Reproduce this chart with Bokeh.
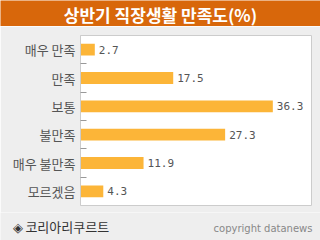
from bokeh.plotting import figure
from bokeh.models import Range1d, FixedTicker, LinearAxis, ColumnDataSource, Label
from bokeh.layouts import column
from bokeh.core.properties import value
from bokeh.embed import file_html
from bokeh.resources import INLINE

title_text = "상반기 직장생활 만족도(%)"
categories = ["매우 만족", "만족", "보통", "불만족", "매우 불만족", "모르겠음"]
values = [2.7, 17.5, 36.3, 27.3, 11.9, 4.3]
source_text = "◈ 코리아리쿠르트"
copyright_text = "copyright datanews"

KFONT = "Noto Sans CJK KR"
BG = "#EEEEEE"
W = 320
LEFT, RIGHT = 80, 9


def strip(height, fill):
    # full-width frame; data units equal page pixels
    f = figure(width=W, height=height, x_range=Range1d(0, W), y_range=Range1d(0, height),
               toolbar_location=None, output_backend="svg", x_axis_type=None, y_axis_type=None,
               min_border=0, min_border_left=0, min_border_right=0, min_border_top=0,
               min_border_bottom=0, outline_line_color=None, frame_align=False,
               background_fill_color=fill, border_fill_color=fill)
    f.xgrid.visible = False
    f.ygrid.visible = False
    return f


# header
h = strip(26, "#D8670B")
h.add_layout(Label(x=W / 2, y=12.5, text=title_text, text_align="center", text_baseline="middle",
                   text_color="white", text_font=KFONT, text_font_style="bold",
                   text_font_size="17px"))

n = len(categories)
pos = [i + 0.5 for i in range(n)]
src = ColumnDataSource(dict(cat=categories, val=values, pos=pos,
                            lab=[f"{v}" for v in values]))

p = figure(width=W, height=186, x_range=Range1d(0, 43.6), y_range=Range1d(n, 0),
           toolbar_location=None, output_backend="svg", x_axis_type=None, y_axis_type=None,
           min_border_left=LEFT, min_border_right=RIGHT, min_border_top=9, min_border_bottom=7,
           background_fill_color="white", border_fill_color=BG, frame_align=False,
           outline_line_color="#CCCCCC", outline_line_width=1)
p.xgrid.visible = False
p.ygrid.visible = False

ax = LinearAxis(ticker=FixedTicker(ticks=pos, minor_ticks=list(range(1, n))))
ax.major_label_overrides = {t: c for t, c in zip(pos, categories)}
ax.major_tick_in = 0
ax.major_tick_out = 0
ax.minor_tick_in = 6
ax.minor_tick_out = 0
ax.minor_tick_line_color = "#999999"
ax.axis_line_color = "#CCCCCC"
ax.major_label_standoff = 5
ax.major_label_text_font = KFONT
ax.major_label_text_font_size = "13px"
ax.major_label_text_color = "#555555"
p.add_layout(ax, "left")

p.hbar(y="pos", right="val", left=0, height=0.42, source=src,
       fill_color="#FCB538", line_color=None)
p.text(x="val", y="pos", text="lab", source=src, x_offset=4,
       text_baseline="middle", text_align="left",
       text_font=value("DejaVu Sans Mono"), text_font_size="11px", text_color="#555555")

# footer
f = strip(28, BG)
f.add_layout(Label(x=12, y=14, text=source_text, text_baseline="middle", text_align="left",
                   text_font=KFONT, text_font_size="13px", text_color="#333333"))
f.add_layout(Label(x=312, y=12, text=copyright_text, text_baseline="middle", text_align="right",
                   text_font="DejaVu Sans", text_font_size="10px", text_color="#888888"))

layout = column(h, p, f, spacing=0)
open("out.html", "w").write(file_html(layout, INLINE))
